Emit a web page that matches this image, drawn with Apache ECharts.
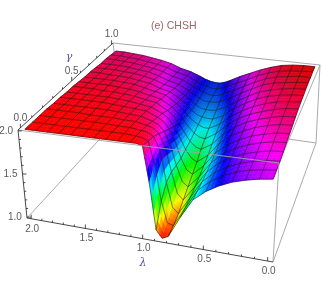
<!DOCTYPE html>
<html><head><meta charset="utf-8">
<style>html,body{margin:0;padding:0;background:#fff}#c{width:322px;height:294px}</style>
<script src="https://cdn.jsdelivr.net/npm/echarts@6/dist/echarts.min.js"></script>
</head><body><div id="c"></div>
<script>
var lambdas=[2.0,1.9,1.8,1.7,1.6,1.5,1.4,1.3,1.2,1.1,1.05,1.0,0.95,0.9,0.85,0.8,0.7,0.6,0.5,0.4,0.3,0.2,0.1,0.0];
var gammas=[0,0.067,0.133,0.2,0.267,0.333,0.4,0.467,0.533,0.6,0.667,0.733,0.8,0.867,0.933,1];
var zRows=[
[2.00,2.00,2.00,2.00,2.00,2.00,2.00,2.00,2.00,2.00,2.00,1.98,1.58,1.08,1.00,1.03,1.26,1.47,1.58,1.66,1.72,1.76,1.79,1.81],
[2.00,2.00,2.00,2.00,2.00,2.00,2.00,2.00,2.00,1.99,1.98,1.95,1.70,1.30,1.07,1.05,1.27,1.48,1.60,1.68,1.74,1.78,1.80,1.82],
[2.00,2.00,2.00,2.00,2.00,2.00,2.00,1.99,1.99,1.97,1.96,1.92,1.78,1.42,1.15,1.09,1.29,1.49,1.61,1.69,1.75,1.79,1.82,1.83],
[2.00,2.00,2.00,2.00,1.99,1.99,1.99,1.98,1.98,1.95,1.93,1.87,1.73,1.45,1.21,1.15,1.32,1.51,1.63,1.71,1.77,1.81,1.84,1.85],
[1.99,1.99,1.99,1.99,1.99,1.99,1.98,1.97,1.96,1.92,1.89,1.82,1.67,1.44,1.26,1.21,1.35,1.53,1.65,1.73,1.79,1.83,1.86,1.87],
[1.99,1.99,1.99,1.99,1.99,1.98,1.97,1.96,1.95,1.89,1.85,1.77,1.63,1.44,1.31,1.27,1.39,1.56,1.67,1.75,1.81,1.85,1.88,1.89],
[1.98,1.98,1.98,1.98,1.98,1.97,1.96,1.94,1.92,1.86,1.81,1.72,1.60,1.46,1.37,1.33,1.43,1.59,1.70,1.77,1.83,1.87,1.90,1.91],
[1.98,1.98,1.98,1.97,1.97,1.96,1.95,1.92,1.90,1.82,1.77,1.68,1.58,1.48,1.42,1.40,1.48,1.62,1.72,1.80,1.85,1.89,1.92,1.93],
[1.97,1.97,1.97,1.97,1.96,1.95,1.93,1.90,1.87,1.79,1.73,1.65,1.57,1.50,1.46,1.45,1.53,1.65,1.75,1.82,1.87,1.91,1.94,1.95],
[1.96,1.96,1.96,1.96,1.95,1.94,1.91,1.88,1.85,1.76,1.71,1.63,1.57,1.53,1.50,1.50,1.57,1.68,1.77,1.84,1.89,1.93,1.95,1.96],
[1.96,1.96,1.95,1.95,1.94,1.92,1.90,1.85,1.82,1.74,1.69,1.62,1.57,1.55,1.54,1.54,1.60,1.71,1.79,1.86,1.91,1.94,1.96,1.97],
[1.95,1.95,1.95,1.94,1.93,1.91,1.88,1.83,1.80,1.72,1.67,1.62,1.58,1.57,1.57,1.58,1.64,1.73,1.81,1.88,1.92,1.95,1.97,1.98],
[1.94,1.94,1.94,1.93,1.91,1.90,1.86,1.81,1.78,1.71,1.67,1.63,1.60,1.60,1.60,1.62,1.68,1.76,1.83,1.90,1.94,1.96,1.98,1.99],
[1.94,1.94,1.93,1.92,1.90,1.88,1.85,1.80,1.77,1.70,1.67,1.64,1.62,1.61,1.62,1.65,1.71,1.78,1.85,1.91,1.95,1.97,1.99,1.99],
[1.93,1.93,1.92,1.91,1.89,1.87,1.84,1.79,1.76,1.70,1.67,1.65,1.63,1.63,1.65,1.68,1.74,1.80,1.87,1.92,1.96,1.98,1.99,2.00],
[1.92,1.92,1.91,1.90,1.88,1.86,1.83,1.78,1.75,1.70,1.67,1.65,1.64,1.64,1.66,1.69,1.76,1.82,1.88,1.93,1.97,1.99,2.00,2.00]
];
var lambdaTicks=[2.0,1.5,1.0,0.5,0.0];
var gammaTicks=[0.0,0.5,1.0];
var zTicks=[1.0,1.5,2.0];
var lambdaMinor=[1.9,1.8,1.7,1.6,1.4,1.3,1.2,1.1,0.9,0.8,0.7,0.6,0.4,0.3,0.2,0.1];
var gammaMinor=[0.1,0.2,0.3,0.4,0.6,0.7,0.8,0.9];
var zMinor=[1.1,1.2,1.3,1.4,1.6,1.7,1.8,1.9];

// view box (3D limits and the screen position of its eight corners)
var L0=2.04,L1=-0.04,G0=-0.02,G1=1.02,Z0=0.99,Z1=2.01,KU=0.887,KV=1.3;
var A=[18,130],B=[113,43],C=[320,65],D=[279,163],E=[27,218],F=[122,115],G=[316,143],H=[273,262];
function warp(u,k){return u*k/(1+u*(k-1));}
function mix(a,b,t){return [a[0]+(b[0]-a[0])*t,a[1]+(b[1]-a[1])*t];}
function project(l,g,z){
  var u=warp((L0-l)/(L0-L1),KU),v=warp((g-G0)/(G1-G0),KV),w=(z-Z0)/(Z1-Z0);
  var top=mix(mix(A,D,u),mix(B,C,u),v),bot=mix(mix(E,H,u),mix(F,G,u),v);
  return mix(bot,top,w);
}
function hue(z,b){
  var h=Math.max(0,Math.min(1,z-1))*6,i=Math.floor(h)%6,f=h-Math.floor(h),q=1-f;
  var r=[[1,f,0],[q,1,0],[0,1,f],[0,q,1],[f,0,1],[1,0,q]][i];
  return 'rgb('+Math.round(r[0]*255*b)+','+Math.round(r[1]*255*b)+','+Math.round(r[2]*255*b)+')';
}
var SUB=3;
var cells=[];
(function(){
  var order=[];
  for(var i=0;i<lambdas.length-1;i++)order.push(i);
  order.sort(function(a,b){return Math.abs(lambdas[b]-0.85)-Math.abs(lambdas[a]-0.85);});
  for(var j=gammas.length-2;j>=0;j--)order.forEach(function(i){cells.push([i,j]);});
})();
function surfaceItem(params,api){
  var i=api.value(0),j=api.value(1),kids=[];
  var z00=zRows[j][i],z10=zRows[j][i+1],z01=zRows[j+1][i],z11=zRows[j+1][i+1];
  var shade=1-0.16*gammas[j];
  function pt(s,t){
    var l=lambdas[i]+(lambdas[i+1]-lambdas[i])*s,g=gammas[j]+(gammas[j+1]-gammas[j])*t;
    var z=z00*(1-s)*(1-t)+z10*s*(1-t)+z01*(1-s)*t+z11*s*t;
    return {p:api.coord(project(l,g,z)),z:z};
  }
  for(var a=0;a<SUB;a++)for(var b=0;b<SUB;b++){
    var p=pt(a/SUB,b/SUB),q=pt((a+1)/SUB,b/SUB),r=pt((a+1)/SUB,(b+1)/SUB),s=pt(a/SUB,(b+1)/SUB);
    var col=hue((p.z+q.z+r.z+s.z)/4,shade);
    kids.push({type:'polygon',shape:{points:[p.p,q.p,r.p,s.p]},style:{fill:col,stroke:col,lineWidth:0.6}});
  }
  return {type:'group',children:kids};
}
function rowItem(params,api){
  var j=api.value(0),pts=lambdas.map(function(l,i){return api.coord(project(l,gammas[j],zRows[j][i]));});
  return {type:'polyline',shape:{points:pts},style:{fill:null,stroke:'rgba(20,20,20,0.65)',lineWidth:0.8}};
}
function colItem(params,api){
  var i=api.value(0),pts=gammas.map(function(g,j){return api.coord(project(lambdas[i],g,zRows[j][i]));});
  return {type:'polyline',shape:{points:pts},style:{fill:null,stroke:'rgba(20,20,20,0.65)',lineWidth:0.8}};
}
var meshCols=[];
lambdas.forEach(function(l,i){if(Math.abs(l*10-Math.round(l*10))<1e-6)meshCols.push([i,0]);});
var meshRows=gammas.map(function(g,j){return [j,0];});

var corner={A:A,B:B,C:C,D:D,E:E,F:F,G:G,H:H};
function edgeSeries(list,color,w,z){
  return {type:'custom',coordinateSystem:'cartesian2d',silent:true,clip:false,z:z,
    data:list.map(function(e,k){return [k,0];}),
    renderItem:function(p,api){var e=list[api.value(0)];
      return {type:'line',shape:{x1:api.coord(corner[e[0]])[0],y1:api.coord(corner[e[0]])[1],x2:api.coord(corner[e[1]])[0],y2:api.coord(corner[e[1]])[1]},style:{stroke:color,lineWidth:w}};}};
}
function tickSeries(vals,fn,len,dir){
  return {type:'custom',coordinateSystem:'cartesian2d',silent:true,clip:false,z:6,
    data:vals.map(function(v){return [v,0];}),
    renderItem:function(p,api){var c=fn(api.value(0)),a=api.coord(c),b=api.coord([c[0]+dir[0]*len,c[1]+dir[1]*len]);
      return {type:'line',shape:{x1:a[0],y1:a[1],x2:b[0],y2:b[1]},style:{stroke:'#222',lineWidth:0.8}};}};
}
function labelSeries(vals,fn,dx,dy){
  return {type:'custom',coordinateSystem:'cartesian2d',silent:true,clip:false,z:7,
    data:vals.map(function(v){return [v,0];}),
    renderItem:function(p,api){var v=api.value(0),c=fn(v),a=api.coord([c[0]+dx,c[1]+dy]);
      return {type:'text',x:a[0],y:a[1],style:{text:v.toFixed(1),fill:'#5a5a5a',font:'10px "Liberation Sans"',textAlign:'center',textVerticalAlign:'middle'}};}};
}
var fl=function(v){return project(v,G0,Z0);};
var fg=function(v){return project(L0,v,Z1);};
var fz=function(v){return project(L0,G0,v);};
function axisName(txt,pos,col){
  return {type:'custom',coordinateSystem:'cartesian2d',silent:true,clip:false,z:7,data:[[0,0]],
    renderItem:function(p,api){var a=api.coord(pos);
      return {type:'text',x:a[0],y:a[1],style:{text:txt,fill:col,font:'italic 11px "DejaVu Serif"',textAlign:'center',textVerticalAlign:'middle'}};}};
}
var chart=echarts.init(document.getElementById('c'),null,{renderer:'canvas'});
chart.setOption({
  animation:false,backgroundColor:'#fff',
  title:{text:'(e) CHSH',left:146,top:16,textStyle:{color:'#a06464',fontSize:10.5,fontWeight:'normal',fontFamily:'Liberation Sans'}},
  grid:{left:0,right:0,top:0,bottom:0,containLabel:false},
  xAxis:{type:'value',min:0,max:322,show:false},
  yAxis:{type:'value',min:0,max:294,inverse:true,show:false},
  series:[
    edgeSeries([['B','C'],['C','G'],['F','G'],['B','F'],['E','F'],['G','H'],['C','D']],'#a0a0a0',0.9,1),
    {type:'custom',coordinateSystem:'cartesian2d',silent:true,clip:false,z:2,data:cells,renderItem:surfaceItem},
    {type:'custom',coordinateSystem:'cartesian2d',silent:true,clip:false,z:3,data:meshRows,renderItem:rowItem},
    {type:'custom',coordinateSystem:'cartesian2d',silent:true,clip:false,z:3,data:meshCols,renderItem:colItem},
    edgeSeries([['A','D'],['D','H']],'#a0a0a0',0.9,4),
    edgeSeries([['E','H'],['A','E'],['A','B']],'#333',0.9,5),
    tickSeries(lambdaTicks,fl,4,[0,-1]),tickSeries(lambdaMinor,fl,2,[0,-1]),
    tickSeries(gammaTicks,fg,4,[0,-1]),tickSeries(gammaMinor,fg,2,[0,-1]),
    tickSeries(zTicks,fz,4,[1,0]),tickSeries(zMinor,fz,2,[1,0]),
    labelSeries(lambdaTicks,fl,1,10),
    labelSeries(gammaTicks,fg,0,-10),
    labelSeries(zTicks,fz,-12,0),
    axisName('γ',[69,57],'#5050a0'),
    axisName('λ',[143,263],'#5050a0')
  ]
});
</script></body></html>
